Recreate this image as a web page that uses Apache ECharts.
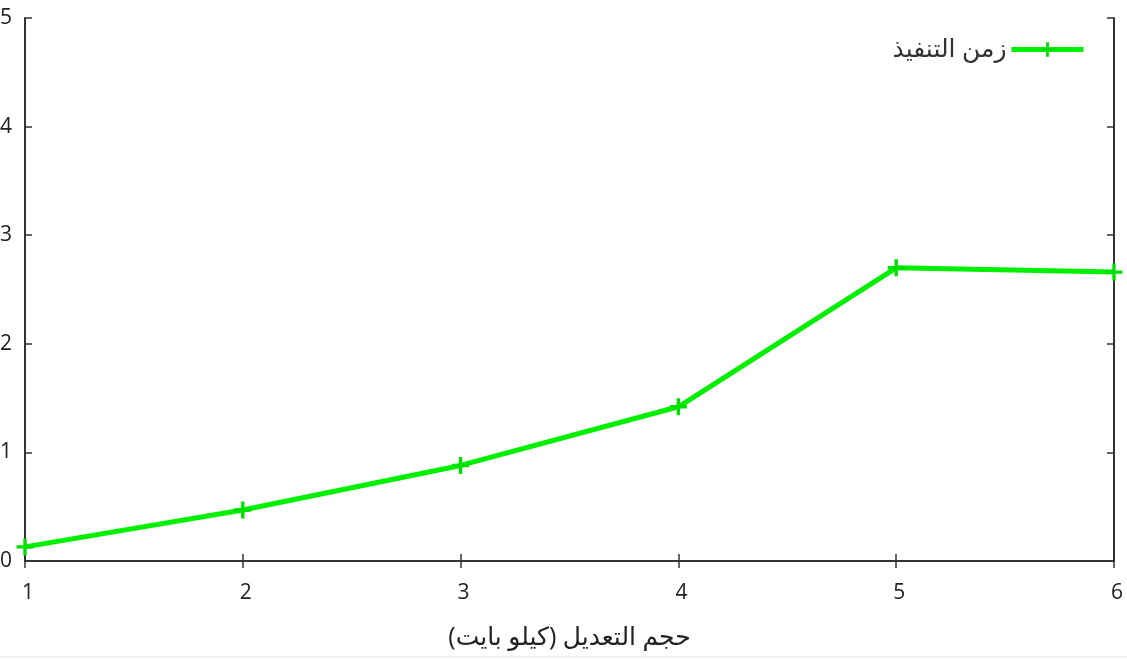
<!DOCTYPE html>
<html>
<head>
<meta charset="utf-8">
<script src="https://cdn.jsdelivr.net/npm/echarts@6/dist/echarts.min.js"></script>
<style>
  html, body { margin: 0; padding: 0; background: #fff; }
  #chart { width: 1127px; height: 659px; }
</style>
</head>
<body>
<div id="chart"></div>
<script>
// Modification size (KB) against execution time
const sizes = [1, 2, 3, 4, 5, 6];
const execTime = [0.13, 0.47, 0.88, 1.42, 2.70, 2.66];
const seriesName = 'زمن التنفيذ';
const xTitle = 'حجم التعديل (كيلو بايت)';

const plusPath = 'path://M4,0h2v4h4v2h-4v4h-2v-4h-4v-2h4z';
const font = '"Open Sans", "DejaVu Sans", sans-serif';
const frame = { lineStyle: { color: '#333', width: 2 } };
const ticksIn = { show: true, inside: true, length: 7, lineStyle: { color: '#333', width: 1.5 } };

const chart = echarts.init(document.getElementById('chart'));
chart.setOption({
  animation: false,
  backgroundColor: '#fff',
  grid: { left: 25, right: 13, top: 18, bottom: 98, containLabel: false, outerBoundsMode: 'none' },
  legend: {
    right: 36, top: 32,
    align: 'right',
    itemWidth: 72, itemHeight: 18,
    itemGap: 12,
    lineStyle: { width: 5, color: '#00f000' },
    itemStyle: { color: '#00e000' },
    textStyle: { fontFamily: font, fontSize: 25, color: '#333' },
    data: [{ name: seriesName }]
  },
  xAxis: [{
    type: 'value', min: 1, max: 6, interval: 1,
    axisLine: frame, axisTick: ticksIn, splitLine: { show: false },
    axisLabel: { margin: 22, fontFamily: font, fontSize: 21, color: '#222', padding: [0, 0, 0, 6] },
    name: xTitle, nameLocation: 'middle', nameGap: 64,
    nameTextStyle: { fontFamily: font, fontSize: 25, color: '#222' }
  }, {
    type: 'value', position: 'top', min: 1, max: 6, interval: 1,
    axisLine: frame, axisTick: ticksIn, axisLabel: { show: false }, splitLine: { show: false }
  }],
  yAxis: [{
    type: 'value', min: 0, max: 5, interval: 1,
    axisLine: frame, axisTick: ticksIn, splitLine: { show: false },
    axisLabel: { margin: 13, fontFamily: font, fontSize: 21, color: '#222' }
  }, {
    type: 'value', position: 'right', min: 0, max: 5, interval: 1,
    axisLine: frame, axisTick: ticksIn, axisLabel: { show: false }, splitLine: { show: false }
  }],
  series: [{
    name: seriesName,
    type: 'line',
    data: sizes.map((s, i) => [s, execTime[i]]),
    symbol: plusPath,
    symbolSize: 17,
    showAllSymbol: true,
    lineStyle: { color: '#00f000', width: 5 },
    itemStyle: { color: '#00e000' },
    clip: false
  }],
  graphic: [{
    type: 'line',
    shape: { x1: 0, y1: 657, x2: 1127, y2: 657 },
    style: { stroke: '#e2e2e2', lineWidth: 1 }
  }]
});
</script>
</body>
</html>
